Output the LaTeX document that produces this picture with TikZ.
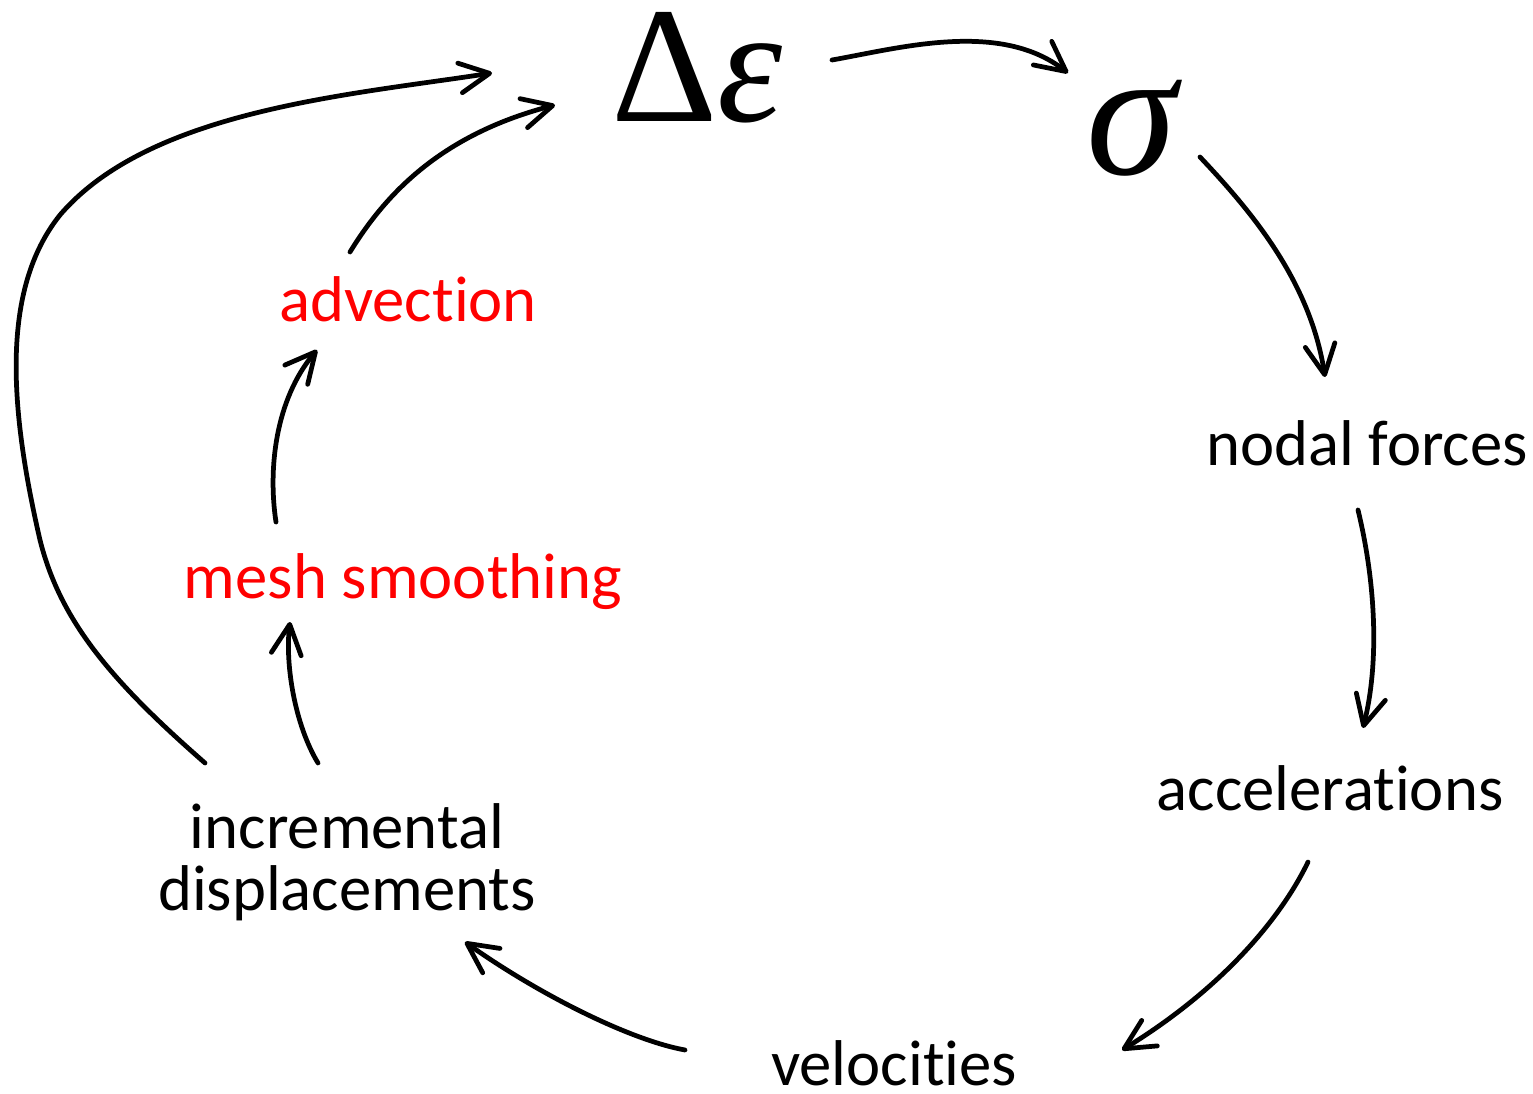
\documentclass[tikz,border=0pt]{standalone}
\usepackage{fontspec}
\setmainfont{Carlito}[Ligatures=NoCommon]
\newfontfamily\grkfont{Liberation Serif}
\usetikzlibrary{arrows.meta}

\begin{document}
\begin{tikzpicture}[
            x=.01cm, y=-.01cm,
            lbl/.style={font=\fontsize{18.4}{17.4}\selectfont, anchor=base, inner sep=0pt},
            alelbl/.style={lbl, text=red},
            sym/.style={font=\grkfont\fontsize{47}{50}\selectfont, anchor=base, inner sep=0pt},
            flow/.style={line width=1.35pt, line cap=round,
                -{Straight Barb[length=8.5pt, width=8.5pt, round]}},
        ]
            \useasboundingbox (0, 0) rectangle (1533, 1094);

            %% quantities of one explicit step
            \node[sym] (de) at (697, 122) {Δ\textit{ε}};
            \node[sym, font=\grkfont\fontsize{52}{54}\selectfont] (sig) at (1134, 175) {\textit{σ}};
            \node[lbl] (nf) at (1367, 465) {nodal forces};
            \node[lbl] (acc) at (1330, 810) {accelerations};
            \node[lbl] (vel) at (894, 1085) {velocities};
            \node[lbl, align=center] (disp) at (347, 910) {incremental\\displacements};

            %% ALE steps
            \node[alelbl] (smooth) at (403, 598) {mesh smoothing};
            \node[alelbl] (adv) at (408, 321) {advection};

            %% main loop
            \draw[flow] ([shift={(135,-62)}]de.base)
                .. controls ([shift={(203,-74)}]de.base) and ([shift={(303,-102)}]de.base)
                .. ([shift={(371,-49)}]de.base);
            \draw[flow] ([shift={(66,-18)}]sig.base)
                .. controls ([shift={(116,35)}]sig.base) and ([shift={(176,105)}]sig.base)
                .. ([shift={(191,202)}]sig.base);
            \draw[flow] ([shift={(-9,45)}]nf.base)
                .. controls ([shift={(8,115)}]nf.base) and ([shift={(13,195)}]nf.base)
                .. ([shift={(-4,263)}]nf.base);
            \draw[flow] ([shift={(-22,52)}]acc.base)
                .. controls ([shift={(-50,110)}]acc.base) and ([shift={(-110,180)}]acc.base)
                .. ([shift={(-208,240)}]acc.base);
            \draw[flow] ([shift={(-209,-35)}]vel.base)
                .. controls ([shift={(-264,-45)}]vel.base) and ([shift={(-354,-90)}]vel.base)
                .. ([shift={(-429,-143)}]vel.base);

            %% through the ALE steps
            \draw[flow] ([shift={(-29,-147)}]disp.base)
                .. controls ([shift={(-52,-185)}]disp.base) and ([shift={(-62,-245)}]disp.base)
                .. ([shift={(-113,24)}]smooth.base);
            \draw[flow] ([shift={(-127,-76)}]smooth.base)
                .. controls ([shift={(-135,-128)}]smooth.base) and ([shift={(-133,79)}]adv.base)
                .. ([shift={(-91,29)}]adv.base);
            \draw[flow] ([shift={(-58,-69)}]adv.base)
                .. controls ([shift={(-23,-126)}]adv.base) and ([shift={(-257,13)}]de.base)
                .. ([shift={(-142,-17)}]de.base);

            %% Lagrangian shortcut
            \draw[flow] ([shift={(-142,-147)}]disp.base)
                .. controls ([shift={(-237,-230)}]disp.base) and ([shift={(-287,-290)}]disp.base)
                .. ([shift={(-307,-370)}]disp.base)
                .. controls ([shift={(-337,-500)}]disp.base) and ([shift={(-697,168)}]de.base)
                .. ([shift={(-637,93)}]de.base)
                .. controls ([shift={(-547,-12)}]de.base) and ([shift={(-347,-27)}]de.base)
                .. ([shift={(-205,-49)}]de.base);
        \end{tikzpicture}
\end{document}
